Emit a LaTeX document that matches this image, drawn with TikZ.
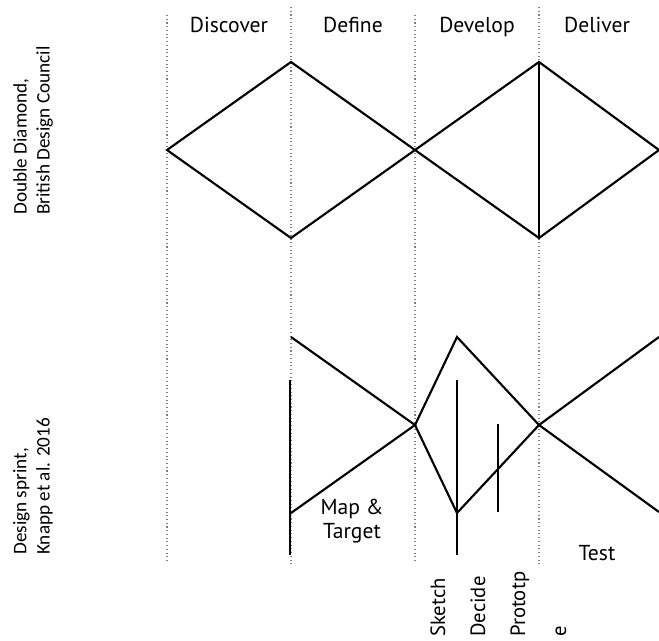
\documentclass[tikz,border=0pt]{standalone}
\usepackage{fontspec}
\setmainfont{PT Sans}
\newfontfamily\sidefont{Carlito}
\usetikzlibrary{positioning}

\begin{document}
\begin{tikzpicture}[x=0.75pt,y=-0.75pt]

\tikzset{
  stroke/.style={line width=1.6pt},
  divider/.style={gray,dotted,line width=0.8pt},
  phase/.style={font=\fontsize{16.2}{17.8}\selectfont,inner sep=0pt},
  step label/.style={font=\fontsize{15.5}{17.5}\selectfont,inner sep=0pt,rotate=90,anchor=base west},
  source/.style={font=\sidefont\fontsize{14.4}{17.3}\selectfont,rotate=90,align=left,inner sep=0pt,anchor=north west},
}

\useasboundingbox (0,0) rectangle (659,640);

% phase dividers
\coordinate (v1t) at (167,15);  \coordinate (v1b) at (167,561);
\coordinate (v2t) at (291,7);   \coordinate (v2b) at (291,567);
\coordinate (v3t) at (415,15);  \coordinate (v3b) at (415,561);
\coordinate (v4t) at (539,7);   \coordinate (v4b) at (539,567);
\draw[divider] (v1t) -- (v1b);
\draw[divider] (v2t) -- (v2b);
\draw[divider] (v3t) -- (v3b);
\draw[divider] (v4t) -- (v4b);

\node[phase,anchor=base] (discover) at (229,32) {Discover};
\node[phase,anchor=base] (define) at (353,32) {Define};
\node[phase,anchor=base] (develop) at (477,32) {Develop};
\node[phase,anchor=base] (deliver) at (597,32) {Deliver};

% double diamond
\coordinate (L) at (167,150);
\coordinate (T1) at (291,62);
\coordinate (B1) at (291,238);
\coordinate (M) at (415,150);
\coordinate (T2) at (539,62);
\coordinate (B2) at (539,238);
\coordinate (R) at (659,150);

\draw[stroke] (L) -- (T1) -- (M) -- (B1) -- cycle;
\draw[stroke] (M) -- (T2) -- (R) -- (B2) -- cycle;
\draw[stroke] (T2) -- (B2);

\node[source] (dd) at (13,215) {Double Diamond,\\British Design Council};

% design sprint
\coordinate (S1t) at (291,337);
\coordinate (S1b) at (291,513);
\coordinate (C1) at (415,425);
\coordinate (S2t) at (457,337);
\coordinate (S2b) at (457,513);
\coordinate (C2) at (539,425);
\coordinate (E1) at (659,337);
\coordinate (E2) at (659,512);

\draw[stroke] (S1t) -- (C1) -- (S1b);
\draw[stroke] (C1) -- (S2t) -- (C2) -- (E2);
\draw[stroke] (C1) -- (S2b) -- (C2) -- (E1);

\coordinate (mapt) at (290,380);    \coordinate (mapb) at (290,555);
\coordinate (skt) at (457,380);     \coordinate (skb) at (457,555);
\coordinate (prt) at (498,424);     \coordinate (prb) at (498,512);
\draw[stroke] (mapt) -- (mapb);
\draw[stroke] (skt) -- (skb);
\draw[stroke] (prt) -- (prb);

\node[source] (ds) at (13,555) {Design sprint,\\Knapp et al. 2016};

\node[phase,align=center,anchor=base] (map) at (352,538) {Map \&\\Target};
\node[phase,anchor=base] (test) at (597,560) {Test};

\node[step label] (sketch) at (445,637) {Sketch};
\node[step label] (decide) at (485,637) {Decide};
\node[step label] (proto) at (525,637) {Prototp};
\node[step label] (protoe) at (566,637) {e};

\end{tikzpicture}
\end{document}
